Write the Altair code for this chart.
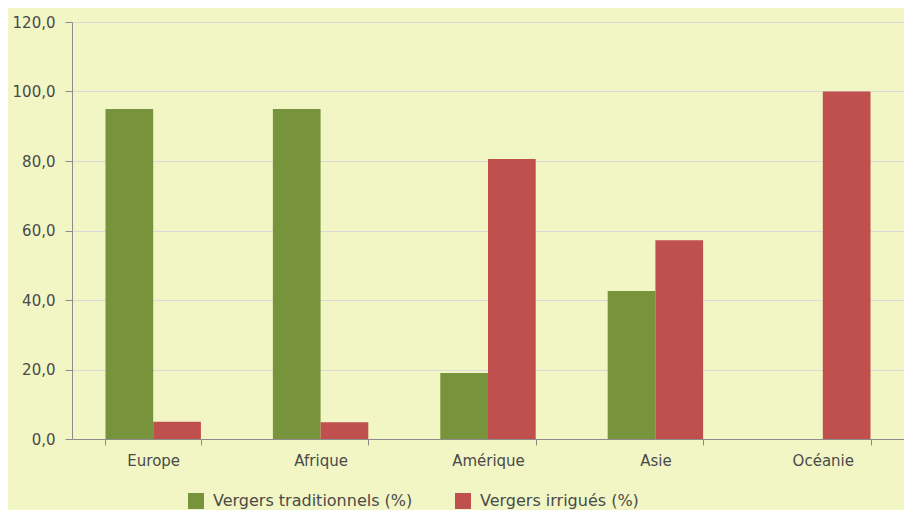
import altair as alt
import pandas as pd

continents = ["Europe", "Afrique", "Amérique", "Asie", "Océanie"]
traditionnels = [95.0, 95.0, 19.0, 42.6, 0.0]
irrigues = [5.0, 4.8, 80.6, 57.2, 100.0]
series = ["Vergers traditionnels (%)", "Vergers irrigués (%)"]
colors = ["#77933c", "#c0504d"]

rows = []
for c, t, i in zip(continents, traditionnels, irrigues):
    rows.append({"continent": c, "serie": series[0], "valeur": t})
    rows.append({"continent": c, "serie": series[1], "valeur": i})
df = pd.DataFrame(rows)

font = "DejaVu Sans"
txt = "#4a4a4a"
axis_col = "#8c8c8c"

chart = alt.Chart(df).mark_bar().encode(
    x=alt.X("continent:N", sort=continents, title=None,
            scale=alt.Scale(paddingInner=0.43),
            axis=alt.Axis(labelAngle=0, tickBand="extent", labelFontSize=15,
                          labelColor=txt, labelFont=font, domainColor=axis_col,
                          tickColor=axis_col, tickSize=6, labelPadding=8)),
    xOffset=alt.XOffset("serie:N", sort=series, scale=alt.Scale(paddingInner=0)),
    y=alt.Y("valeur:Q", title=None,
            scale=alt.Scale(domain=[0, 120]),
            axis=alt.Axis(values=[0, 20, 40, 60, 80, 100, 120],
                          labelExpr="replace(format(datum.value, '.1f'), '.', ',')",
                          labelFontSize=15, labelColor=txt, labelFont=font,
                          domainColor=axis_col, tickColor=axis_col, tickSize=7,
                          gridColor="#d9d9d9", labelPadding=10)),
    color=alt.Color("serie:N", sort=series,
                    scale=alt.Scale(domain=series, range=colors),
                    legend=alt.Legend(title=None, orient="none", direction="horizontal",
                                      legendX=116, legendY=471, symbolType="square",
                                      symbolSize=256, symbolOpacity=1, labelFontSize=16,
                                      labelFont=font, labelColor=txt, labelOffset=9,
                                      labelLimit=400, columnPadding=42,
                                      symbolStrokeWidth=0)),
).properties(
    width=832, height=417,
    background="#f1f6c4",
    autosize=alt.AutoSizeParams(type="none"),
    padding={"left": 64, "top": 14, "right": 0, "bottom": 71},
).configure_view(stroke=None).configure_axis(grid=True).configure_axisX(grid=False)

chart.save("out.html", embed_options={"renderer": "svg", "actions": False})
